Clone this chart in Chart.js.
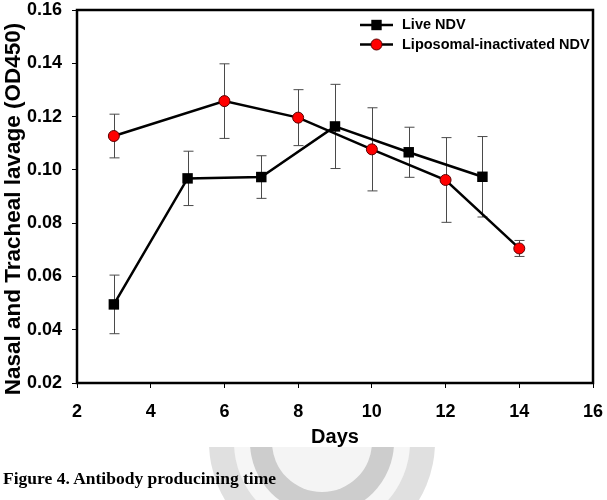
<!DOCTYPE html>
<html>
<head>
<meta charset="utf-8">
<script src="https://cdn.jsdelivr.net/npm/chart.js@4/dist/chart.umd.min.js"></script>
<style>
  body { margin: 0; background: #fff; }
  #wrap { position: relative; width: 607px; height: 500px; }
  #caption {
    position: absolute; left: 3px; top: 468px;
    font: bold 17.5px "Liberation Serif", "Times New Roman", serif;
    line-height: 20px; color: #000; white-space: nowrap;
  }
</style>
</head>
<body>
<div id="wrap">
  <canvas id="chart" width="607" height="500"></canvas>
  <div id="caption">Figure 4. Antibody producining time</div>
</div>
<script>
// data
const liveDays = [3, 5, 7, 9, 11, 13];
const liveOD = [0.0495, 0.0968, 0.0973, 0.1163, 0.1066, 0.0974];
const liveErr = [0.0110, 0.0102, 0.0080, 0.0158, 0.0094, 0.0151];

const lipoDays = [3, 6, 8, 10, 12, 14];
const lipoOD = [0.1127, 0.1258, 0.1196, 0.1077, 0.0962, 0.0705];
const lipoErr = [0.0082, 0.0140, 0.0105, 0.0156, 0.0159, 0.0030];

const xTicks = [2, 4, 6, 8, 10, 12, 14, 16];
const yTicks = [0.02, 0.04, 0.06, 0.08, 0.10, 0.12, 0.14, 0.16];

const errors = [liveErr, lipoErr];
const toPoints = (xs, ys) => xs.map((x, i) => ({ x: x, y: ys[i] }));

// faint emblem behind the caption
const watermark = {
  id: "watermark",
  beforeDraw(chart) {
    const ctx = chart.ctx;
    ctx.save();
    ctx.beginPath();
    ctx.rect(0, 447, chart.width, chart.height - 447);
    ctx.clip();
    const cx = 322, cy = 442;
    ctx.fillStyle = "#e0e0e0";
    ctx.beginPath(); ctx.arc(cx, cy, 113, 0, Math.PI * 2); ctx.fill();
    ctx.fillStyle = "#f6f6f6";
    ctx.beginPath(); ctx.arc(cx, cy, 88, 0, Math.PI * 2); ctx.fill();
    ctx.fillStyle = "#cdcdcd";
    ctx.beginPath(); ctx.arc(cx, cy, 72, 0, Math.PI * 2); ctx.fill();
    ctx.fillStyle = "#f4f4f4";
    ctx.beginPath(); ctx.arc(cx, cy, 50, 0, Math.PI * 2); ctx.fill();
    ctx.restore();
  }
};

const errorBars = {
  id: "errorBars",
  beforeDatasetsDraw(chart) {
    const ctx = chart.ctx;
    const xs = chart.scales.x, ys = chart.scales.y;
    ctx.save();
    ctx.strokeStyle = "#4a4a4a";
    ctx.lineWidth = 1;
    chart.data.datasets.forEach((ds, di) => {
      ds.data.forEach((p, i) => {
        const e = errors[di][i];
        const px = Math.round(xs.getPixelForValue(p.x)) + 0.5;
        const top = ys.getPixelForValue(p.y + e);
        const bot = ys.getPixelForValue(p.y - e);
        ctx.beginPath();
        ctx.moveTo(px, top); ctx.lineTo(px, bot);
        ctx.moveTo(px - 5, top); ctx.lineTo(px + 5, top);
        ctx.moveTo(px - 5, bot); ctx.lineTo(px + 5, bot);
        ctx.stroke();
      });
    });
    ctx.restore();
  }
};

const frameAndLegend = {
  id: "frameAndLegend",
  afterDraw(chart) {
    const ctx = chart.ctx;
    const a = chart.chartArea;
    ctx.save();
    ctx.strokeStyle = "#000";
    ctx.lineWidth = 2.5;
    ctx.strokeRect(a.left, a.top, a.right - a.left, a.bottom - a.top);

    ctx.font = "bold 14.5px 'Liberation Sans', Arial, sans-serif";
    ctx.textBaseline = "middle";
    ctx.fillStyle = "#000";
    chart.data.datasets.forEach((ds, i) => {
      const y = a.top + 15 + i * 19.5;
      const x0 = a.right - 233, x1 = a.right - 200, mx = (x0 + x1) / 2;
      ctx.lineWidth = 2.5;
      ctx.strokeStyle = "#000";
      ctx.beginPath(); ctx.moveTo(x0, y); ctx.lineTo(x1, y); ctx.stroke();
      if (ds.pointStyle === "rect") {
        ctx.fillStyle = ds.pointBackgroundColor;
        ctx.fillRect(mx - 5.2, y - 5.2, 10.4, 10.4);
      } else {
        ctx.fillStyle = ds.pointBackgroundColor;
        ctx.strokeStyle = ds.pointBorderColor;
        ctx.lineWidth = 1;
        ctx.beginPath(); ctx.arc(mx, y, 5.5, 0, Math.PI * 2); ctx.fill(); ctx.stroke();
      }
      ctx.fillStyle = "#000";
      ctx.fillText(ds.label, a.right - 191, y);
    });
    ctx.restore();
  }
};

const tickFont = { family: "'Liberation Sans', Arial, sans-serif", size: 18, weight: "bold", lineHeight: 1 };

new Chart(document.getElementById("chart"), {
  type: "line",
  data: {
    datasets: [
      {
        label: "Live NDV",
        data: toPoints(liveDays, liveOD),
        borderColor: "#000",
        borderWidth: 2.5,
        pointStyle: "rect",
        pointRadius: 7.4,
        pointBackgroundColor: "#000",
        pointBorderColor: "#000",
        pointBorderWidth: 0,
        tension: 0
      },
      {
        label: "Liposomal-inactivated NDV",
        data: toPoints(lipoDays, lipoOD),
        borderColor: "#000",
        borderWidth: 2.5,
        pointStyle: "circle",
        pointRadius: 5.5,
        pointBackgroundColor: "#ff0000",
        pointBorderColor: "#5a0000",
        pointBorderWidth: 1,
        tension: 0
      }
    ]
  },
  options: {
    responsive: false,
    animation: false,
    layout: { padding: { top: 10, right: 14, left: 0, bottom: 0 } },
    plugins: { legend: { display: false }, tooltip: { enabled: false } },
    scales: {
      x: {
        type: "linear",
        min: 2, max: 16,
        afterFit: (s) => { s.height = 117; s.paddingLeft = 0; s.paddingRight = 0; },
        afterBuildTicks: (s) => { s.ticks = xTicks.map((v) => ({ value: v })); },
        grid: { drawOnChartArea: false, drawTicks: true, tickLength: 5, color: "#000", lineWidth: 1 },
        border: { display: false },
        ticks: { color: "#000", font: tickFont, padding: 15, maxRotation: 0 },
        title: {
          display: true, text: "Days", color: "#000",
          font: { family: "'Liberation Sans', Arial, sans-serif", size: 20, weight: "bold" },
          padding: { top: 0, bottom: 51 }
        }
      },
      y: {
        min: 0.02, max: 0.16,
        afterFit: (s) => { s.width = 77; s.paddingTop = 0; s.paddingBottom = 0; },
        afterBuildTicks: (s) => { s.ticks = yTicks.map((v) => ({ value: v })); },
        grid: { drawOnChartArea: false, drawTicks: true, tickLength: 5, color: "#000", lineWidth: 1 },
        border: { display: false },
        ticks: { color: "#000", font: tickFont, padding: 10, callback: (v) => v.toFixed(2) },
        title: {
          display: true, text: "Nasal and Tracheal lavage (OD450)    ", color: "#000",
          font: { family: "'Liberation Sans', Arial, sans-serif", size: 22.5, weight: "bold" },
          padding: { top: 0, bottom: 0 }
        }
      }
    }
  },
  plugins: [watermark, errorBars, frameAndLegend]
});
</script>
</body>
</html>
